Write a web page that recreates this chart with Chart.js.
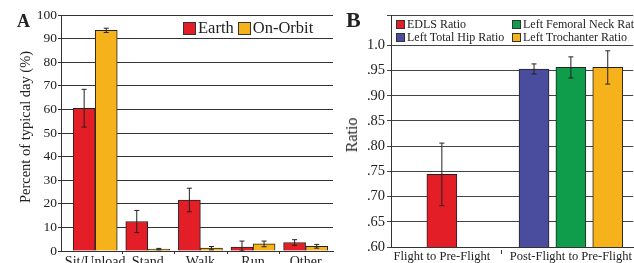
<!DOCTYPE html>
<html lang="en">

<head>
  <meta charset="UTF-8" />
  <title>Activity and bone ratios</title>
  <script src="https://cdn.jsdelivr.net/npm/chart.js@4.4.1/dist/chart.umd.min.js"></script>
  <style>
    body { margin: 0; background: #fff; }
    .wrap { position: relative; width: 634px; height: 263px; overflow: hidden; font-family: "Liberation Serif", serif; color: #222; }
    canvas { position: absolute; top: 0; }
    .panel { position: absolute; font-weight: bold; }
    .ytitle { position: absolute; white-space: nowrap; transform: translate(-50%, -50%) rotate(-90deg); }
    .leg { position: absolute; white-space: nowrap; display: flex; align-items: center; }
    .leg i { display: inline-block; border: 1px solid #333; box-sizing: border-box; margin-right: 2px; }
  </style>
</head>

<body>
  <div class="wrap">
    <canvas id="chartA" width="336" height="263" style="left:0"></canvas>
    <canvas id="chartB" width="298" height="263" style="left:336px"></canvas>

    <div class="panel" style="left:17px; top:11px; font-size:18px;">A</div>
    <div class="ytitle" style="left:25px; top:127px; font-size:14.5px;">Percent of typical day (%)</div>
    <div class="leg" style="left:183px; top:18px; font-size:16.5px;">
      <i style="width:13px; height:13px; background:#e41e26"></i>Earth
      <i style="width:13px; height:13px; background:#f6b21b; margin-left:4px"></i>On-Orbit
    </div>

    <div class="panel" style="left:346px; top:7px; font-size:22px;">B</div>
    <div class="ytitle" style="left:352px; top:135px; font-size:16px;">Ratio</div>
    <div class="leg" style="left:396px; top:17px; font-size:12px;">
      <i style="width:9px; height:9px; background:#e41e26"></i>EDLS Ratio
    </div>
    <div class="leg" style="left:512px; top:17px; font-size:12px;">
      <i style="width:9px; height:9px; background:#0f9d4b"></i>Left Femoral Neck Ratio
    </div>
    <div class="leg" style="left:396px; top:30px; font-size:12px;">
      <i style="width:9px; height:9px; background:#4a4c9d"></i>Left Total Hip Ratio
    </div>
    <div class="leg" style="left:512px; top:30px; font-size:12px;">
      <i style="width:9px; height:9px; background:#f6b21b"></i>Left Trochanter Ratio
    </div>
  </div>

  <script>
    // panel A data
    const activities = ["Sit/Unload", "Stand", "Walk", "Run", "Other"];
    const earth = [60.5, 12.5, 21.6, 1.7, 3.6];
    const earthErr = [8.0, 4.7, 5.0, 2.5, 1.2];
    const orbit = [93.5, 0.8, 1.2, 3.0, 2.0];
    const orbitErr = [0.9, 0.3, 0.7, 1.2, 0.8];
    const percentTicks = [0, 10, 20, 30, 40, 50, 60, 70, 80, 90, 100];

    // panel B data
    const comparisons = ["Flight to Pre-Flight", "Post-Flight to Pre-Flight"];
    const edls = [0.744, null];
    const edlsErr = [0.062, null];
    const totalHip = [null, 0.953];
    const totalHipErr = [null, 0.010];
    const femoralNeck = [null, 0.956];
    const femoralNeckErr = [null, 0.021];
    const trochanter = [null, 0.956];
    const trochanterErr = [null, 0.033];
    const ratioTicks = [0.60, 0.65, 0.70, 0.75, 0.80, 0.85, 0.90, 0.95, 1.0, 1.06];

    const serif = "Liberation Serif";
    const RED = "#e41e26", ORANGE = "#f6b21b", BLUE = "#4a4c9d", GREEN = "#0f9d4b";

    // error bars on top of the bars
    const errorBars = {
      id: "errorBars",
      afterDatasetsDraw(chart) {
        const ctx = chart.ctx;
        const y = chart.scales.y;
        chart.data.datasets.forEach((ds, di) => {
          const meta = chart.getDatasetMeta(di);
          meta.data.forEach((bar, i) => {
            const p = ds.data[i];
            const top = y.getPixelForValue(p.y + p.err);
            const bot = y.getPixelForValue(Math.max(p.y - p.err, y.min));
            ctx.save();
            ctx.strokeStyle = "#222";
            ctx.lineWidth = 1;
            ctx.beginPath();
            ctx.moveTo(bar.x, top); ctx.lineTo(bar.x, bot);
            ctx.moveTo(bar.x - 2.5, top); ctx.lineTo(bar.x + 2.5, top);
            ctx.moveTo(bar.x - 2.5, bot); ctx.lineTo(bar.x + 2.5, bot);
            ctx.stroke();
            ctx.restore();
          });
        });
      }
    };

    // small marks under the x axis between categories
    const axisMarks = {
      id: "axisMarks",
      afterDraw(chart, args, opts) {
        const ctx = chart.ctx;
        const x = chart.scales.x;
        const b = chart.chartArea.bottom;
        ctx.save();
        ctx.strokeStyle = "#333";
        ctx.lineWidth = 1;
        ctx.beginPath();
        (opts.at || []).forEach(v => {
          const px = Math.round(x.getPixelForValue(v)) + 0.5;
          ctx.moveTo(px, b + (opts.from || 0));
          ctx.lineTo(px, b + (opts.to || 3));
        });
        ctx.stroke();
        ctx.restore();
      }
    };

    // ---------- A ----------
    function pointsA(vals, errs, k) {
      return vals.map((v, i) => ({ x: i + (k - 0.5) * 0.42, y: v, err: errs[i] }));
    }

    new Chart(document.getElementById("chartA"), {
      type: "bar",
      data: {
        datasets: [
          { label: "Earth", data: pointsA(earth, earthErr, 0), backgroundColor: RED },
          { label: "On-Orbit", data: pointsA(orbit, orbitErr, 1), backgroundColor: ORANGE }
        ]
      },
      options: {
        responsive: false,
        animation: false,
        layout: { padding: { top: 15, right: 3, left: 0, bottom: 0 } },
        datasets: {
          bar: { grouped: false, barPercentage: 1, categoryPercentage: 1, maxBarThickness: 22, borderWidth: 1, borderColor: "#222" }
        },
        plugins: {
          legend: { display: false },
          tooltip: { enabled: false },
          axisMarks: { at: [0.5, 1.5, 2.5, 3.5], from: 0, to: 3 }
        },
        scales: {
          x: {
            type: "linear",
            offset: false,
            min: -0.65,
            max: 4.52,
            afterBuildTicks: s => { s.ticks = activities.map((_, i) => ({ value: i })); },
            afterFit: s => { s.height = 12; },
            grid: { display: false, drawTicks: false },
            border: { display: true, color: "#333" },
            ticks: {
              autoSkip: false, maxRotation: 0, minRotation: 0, padding: 3,
              color: "#222", font: { family: serif, size: 14 },
              callback: (v, i) => activities[i]
            }
          },
          y: {
            min: 0,
            max: 100,
            afterBuildTicks: s => { s.ticks = percentTicks.map(v => ({ value: v })); },
            afterFit: s => { s.width = 61; },
            grid: { color: "#333", lineWidth: 1, tickLength: 3 },
            border: { display: true, color: "#333" },
            ticks: { padding: 1, color: "#222", font: { family: serif, size: 13.5 } }
          }
        }
      },
      plugins: [errorBars, axisMarks]
    });

    // ---------- B ----------
    const seriesB = [edls, totalHip, femoralNeck, trochanter];
    const groupCenters = [0, 3.5];

    function pointsB(si, errs) {
      const pts = [];
      comparisons.forEach((_, ci) => {
        const v = seriesB[si][ci];
        if (v === null) return;
        const members = seriesB.map((s, j) => s[ci] !== null ? j : -1).filter(j => j >= 0);
        const k = members.indexOf(si);
        pts.push({ x: groupCenters[ci] + (k - (members.length - 1) / 2), y: v, err: errs[ci] });
      });
      return pts;
    }

    new Chart(document.getElementById("chartB"), {
      type: "bar",
      data: {
        datasets: [
          { label: "EDLS Ratio", data: pointsB(0, edlsErr), backgroundColor: RED },
          { label: "Left Total Hip Ratio", data: pointsB(1, totalHipErr), backgroundColor: BLUE },
          { label: "Left Femoral Neck Ratio", data: pointsB(2, femoralNeckErr), backgroundColor: GREEN },
          { label: "Left Trochanter Ratio", data: pointsB(3, trochanterErr), backgroundColor: ORANGE }
        ]
      },
      options: {
        responsive: false,
        animation: false,
        layout: { padding: { top: 15, right: 0, left: 0, bottom: 0 } },
        datasets: {
          bar: { grouped: false, barPercentage: 1, categoryPercentage: 1, maxBarThickness: 30, borderWidth: 1, borderColor: "#222" }
        },
        plugins: {
          legend: { display: false },
          tooltip: { enabled: false },
          axisMarks: { at: [1.6], from: 3, to: 7 }
        },
        scales: {
          x: {
            type: "linear",
            offset: false,
            min: -1.38,
            max: 5.19,
            afterBuildTicks: s => { s.ticks = groupCenters.map(v => ({ value: v })); },
            afterFit: s => { s.height = 16; },
            grid: { display: false, drawTicks: false },
            border: { display: true, color: "#333" },
            ticks: {
              autoSkip: false, maxRotation: 0, minRotation: 0, padding: 2,
              color: "#222", font: { family: serif, size: 12.5 },
              callback: (v, i) => comparisons[i]
            }
          },
          y: {
            min: 0.6,
            max: 1.06,
            afterBuildTicks: s => { s.ticks = ratioTicks.map(v => ({ value: v })); },
            afterFit: s => { s.width = 55; },
            grid: { color: "#444", lineWidth: 1, tickLength: 4 },
            border: { display: true, color: "#333" },
            ticks: {
              padding: 2, color: "#222", font: { family: serif, size: 14.5 },
              callback: v => v > 1.01 ? "" : (v >= 1 ? "1.0" : "." + Math.round(v * 100))
            }
          }
        }
      },
      plugins: [errorBars, axisMarks]
    });
  </script>
</body>

</html>
